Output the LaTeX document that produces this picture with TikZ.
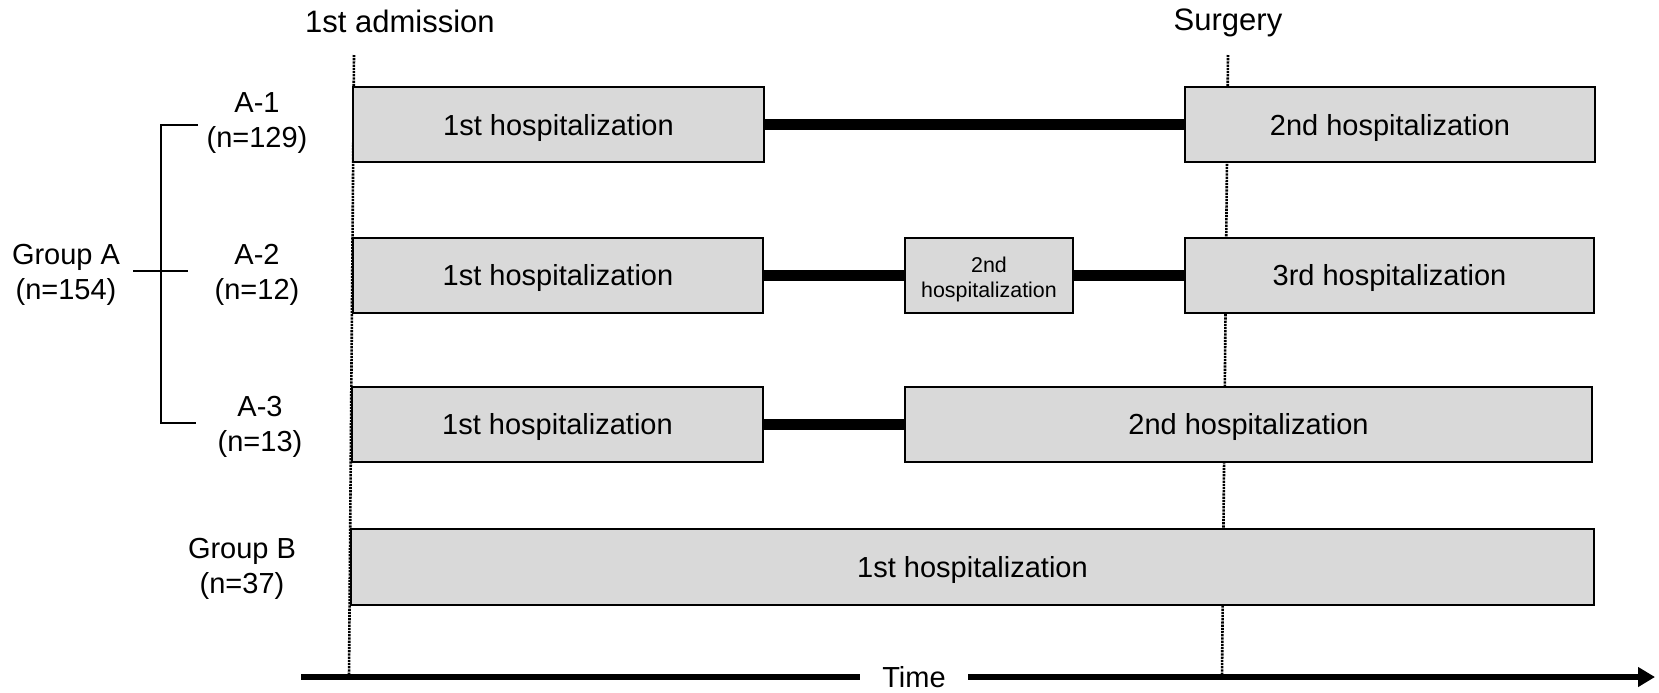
\documentclass[tikz,border=0pt]{standalone}
\usepackage{fontspec}
\setmainfont{Liberation Sans}
\usetikzlibrary{positioning, arrows.meta, calc}
\definecolor{staygray}{HTML}{D9D9D9}

\begin{document}
\begin{tikzpicture}[x=0.5pt, y=-0.5pt,
    every node/.style={font=\fontsize{14.5}{17.5}\selectfont},
    stay/.style={draw, fill=staygray, line width=1pt, minimum height=37.5pt, inner sep=0pt,
      text height=12.8pt, text depth=2pt},
    gap/.style={line width=5.5pt},
    milestone/.style={line width=1.3pt, dash pattern=on 1.1pt off 0.5pt},
    head/.style={font=\fontsize{15.5}{18}\selectfont}]
  \useasboundingbox (0,0) rectangle (1659,692);
  % time marks
  \node[head] (adm) at (400,21) {1st admission};
  \node[head] (surg) at (1228,23) {Surgery};
  \coordinate (admtop) at (354,55); \coordinate (admbot) at (349,677);
  \coordinate (surgtop) at (1228,55); \coordinate (surgbot) at (1222,677);
  \draw[milestone] (admtop) -- (admbot);
  \draw[milestone] (surgtop) -- (surgbot);
  % row A-1
  \node[stay, minimum width=205.5pt] (a1first) at (558.5,124.5) {1st hospitalization};
  \node[stay, minimum width=205pt] (a1second) at (1390,124.5) {2nd hospitalization};
  \draw[gap] (a1first.east) -- (a1second.west);
  % row A-2
  \node[stay, minimum width=205pt] (a2first) at (558,275) {1st hospitalization};
  \node[stay, minimum width=84pt, align=center, text height=, text depth=,
    font=\fontsize{10.7}{12.7}\selectfont] (a2second) at (989,275) {\rule{0pt}{12.4pt}2nd\\hospitalization};
  \node[stay, minimum width=204.5pt] (a2third) at (1389.5,275) {3rd hospitalization};
  \draw[gap] (a2first.east) -- (a2second.west);
  \draw[gap] (a2second.east) -- (a2third.west);
  % row A-3
  \node[stay, minimum width=205.5pt] (a3first) at (557.5,424) {1st hospitalization};
  \node[stay, minimum width=343.5pt] (a3second) at (1248.5,424) {2nd hospitalization};
  \draw[gap] (a3first.east) -- (a3second.west);
  % group B
  \node[stay, minimum width=621.5pt, minimum height=38pt] (bfirst) at (972.5,567) {1st hospitalization};
  % labels
  \node[align=center] (a1lab) at (257,123) {A-1\\(n=129)};
  \node[align=center] (a2lab) at (257,274.5) {A-2\\(n=12)};
  \node[align=center] (a3lab) at (260,427) {A-3\\(n=13)};
  \node[align=center] (grpB) at (242,569) {Group B\\(n=37)};
  \node[align=center] (grpA) at (66,275) {Group A\\(n=154)};
  % bracket
  \coordinate (brtop) at (198,125); \coordinate (brbot) at (196,423);
  \coordinate (brmid) at (188,271); \coordinate (brstem) at (133,271);
  \draw[line width=1pt] (brtop) -- (161,125) -- (161,423) -- (brbot);
  \draw[line width=1pt] (brstem) -- (brmid);
  % time axis
  \node[inner xsep=11pt] (timelab) at (914,677) {Time};
  \coordinate (axstart) at (301,677); \coordinate (axend) at (1655,677);
  \draw[line width=3.3pt] (axstart) -- (timelab.west);
  \draw[line width=3.3pt, -{Triangle[length=8.5pt, width=9.5pt]}] (timelab.east) -- (axend);
\end{tikzpicture}
\end{document}
